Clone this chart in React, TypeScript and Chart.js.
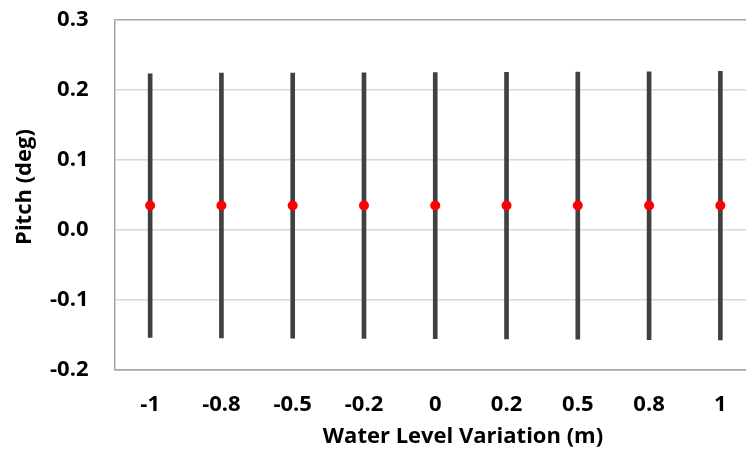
import React, { useEffect, useRef } from "react";
import { Chart, registerables } from "chart.js";

Chart.register(...registerables);

const categories = ["-1", "-0.8", "-0.5", "-0.2", "0", "0.2", "0.5", "0.8", "1"];
const meanValues = [0.035, 0.035, 0.035, 0.035, 0.035, 0.035, 0.035, 0.035, 0.035];
const highValues = [0.223, 0.224, 0.2243, 0.2246, 0.225, 0.2253, 0.2257, 0.2261, 0.2267];
const lowValues = [-0.1533, -0.1543, -0.1547, -0.155, -0.1553, -0.1557, -0.1561, -0.1567, -0.1571];
const yTicks = [-0.2, -0.1, 0.0, 0.1, 0.2, 0.3];

const xTitle = "Water Level Variation (m)";
const yTitle = "Pitch (deg)";
const FONT = "'Open Sans'";

export default function App() {
  const ref = useRef<HTMLCanvasElement | null>(null);

  useEffect(() => {
    document.body.style.margin = "0";
    document.body.style.overflow = "hidden";
    const canvas = ref.current;
    if (!canvas) return;

    const titlePlugin = {
      id: "axisTitles",
      afterDraw(chart: any) {
        const ctx = chart.ctx;
        ctx.save();
        ctx.fillStyle = "#000";
        ctx.font = `700 22px ${FONT}`;
        ctx.textAlign = "center";
        ctx.textBaseline = "middle";
        ctx.fillText(xTitle, 463, 437);
        ctx.translate(25, 187);
        ctx.rotate(-Math.PI / 2);
        ctx.fillText(yTitle, 0, 0);
        ctx.restore();
      },
    };

    const near = (a: number, b: number) => Math.abs(a - b) < 1e-6;

    const chart = new Chart(canvas, {
      type: "bar",
      data: {
        labels: categories,
        datasets: [
          {
            type: "line",
            data: meanValues,
            showLine: false,
            pointRadius: 5,
            pointHoverRadius: 5,
            pointBackgroundColor: "#FF0000",
            pointBorderColor: "#FF0000",
            pointBorderWidth: 0,
            order: 0,
          } as any,
          {
            type: "bar",
            data: lowValues.map((l, i) => [l, highValues[i]]),
            backgroundColor: "#404040",
            borderWidth: 0,
            barThickness: 4,
            order: 1,
          } as any,
        ],
      },
      options: {
        animation: false,
        responsive: true,
        maintainAspectRatio: false,
        layout: { padding: { top: 0, right: 14, left: 0, bottom: 0 } },
        plugins: { legend: { display: false }, tooltip: { enabled: false } },
        scales: {
          x: {
            grid: { display: false, drawTicks: false },
            border: { display: true, color: "#a6a6a6", width: 1.5 },
            ticks: {
              color: "#000",
              font: { family: FONT, size: 22, weight: 700 },
              padding: 22,
              maxRotation: 0,
            },
            afterFit: (scale: any) => {
              scale.height = 87;
            },
          },
          y: {
            min: -0.2,
            max: 0.3,
            afterBuildTicks: (scale: any) => {
              scale.ticks = yTicks.map((v) => ({ value: v }));
            },
            grid: {
              drawTicks: false,
              lineWidth: 1.5,
              color: (c: any) =>
                c.tick && (near(c.tick.value, 0.3) || near(c.tick.value, -0.2))
                  ? "#a6a6a6"
                  : "#d9d9d9",
            },
            border: { display: true, color: "#a6a6a6", width: 1.5 },
            ticks: {
              color: "#000",
              font: { family: FONT, size: 22, weight: 700 },
              padding: 26,
              callback: (v: any) => Number(v).toFixed(1),
            },
            afterFit: (scale: any) => {
              scale.width = 114.5;
              scale.paddingTop = 20;
              scale.paddingBottom = 0;
            },
          },
        },
      },
      plugins: [titlePlugin],
    });

    return () => chart.destroy();
  }, []);

  return (
    <div style={{ position: "fixed", left: 0, top: 0, width: 770, height: 457, background: "#fff" }}>
      <canvas ref={ref} />
    </div>
  );
}
